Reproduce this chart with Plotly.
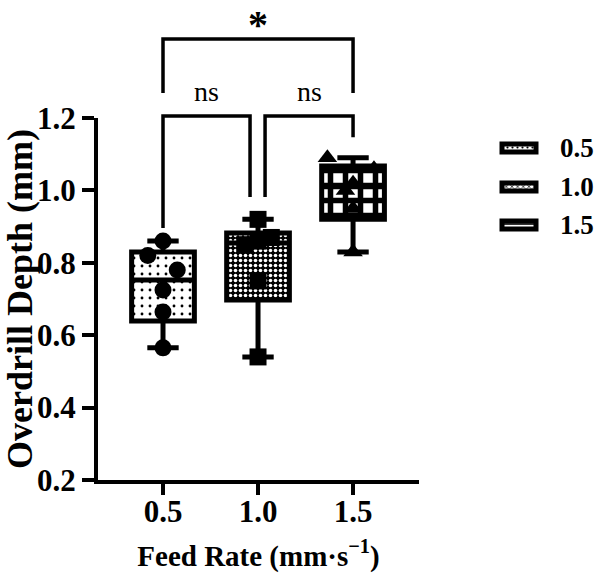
import numpy as np
import plotly.graph_objects as go

# ---------------- data ----------------
groups = ["0.5", "1.0", "1.5"]
group_x = [0.5, 1.0, 1.5]
vals_05 = [0.86, 0.82, 0.78, 0.725, 0.664, 0.565]
vals_10 = [0.92, 0.87, 0.86, 0.85, 0.75, 0.54]
vals_15 = [1.09, 1.06, 1.02, 1.00, 0.95, 0.83]
jit_05 = [0.0, -0.08, 0.075, 0.0, 0.0, 0.0]
jit_10 = [0.0, 0.07, 0.0, -0.07, 0.0, 0.0]
jit_15 = [-0.135, 0.11, 0.0, -0.04, 0.0, 0.0]
x_ticktext = ["0.5", "1.0", "1.5"]
sig_labels = ["*", "ns", "ns"]

all_vals = [vals_05, vals_10, vals_15]
all_jit = [jit_05, jit_10, jit_15]
symbols = ["circle", "square", "triangle-up"]
patterns = [
    dict(shape=".", fgcolor="black", bgcolor="white", size=8, solidity=0.1, fillmode="replace"),
    dict(shape=".", fgcolor="white", bgcolor="black", size=5, solidity=0.4, fillmode="replace"),
    dict(shape="+", fgcolor="black", bgcolor="white", size=15, solidity=0.6, fillmode="replace"),
]

FONT = "Liberation Serif"
BW = 0.33
Y0, Y1 = 0.2, 1.2

fig = go.Figure()

stats = []
for gx, v in zip(group_x, all_vals):
    a = np.array(v)
    q1, med, q3 = np.quantile(a, [0.25, 0.5, 0.75], method="weibull")
    stats.append((gx, q1, med, q3, a.min(), a.max()))

# patterned box bodies
for (gx, q1, med, q3, lo, hi), pat in zip(stats, patterns):
    fig.add_trace(go.Bar(x=[gx], y=[q3 - q1], base=[q1], width=BW,
                         marker=dict(color="white", pattern=pat, line=dict(width=0)),
                         showlegend=False, hoverinfo="skip"))

# box outlines, medians, whiskers
for (gx, q1, med, q3, lo, hi) in stats:
    fig.add_trace(go.Box(x=[gx], q1=[q1], median=[med], q3=[q3],
                         lowerfence=[lo], upperfence=[hi], width=BW,
                         whiskerwidth=0.5, boxpoints=False,
                         fillcolor="rgba(0,0,0,0)",
                         line=dict(color="black", width=5), showlegend=False))

# individual points
for gx, v, j, sym in zip(group_x, all_vals, all_jit, symbols):
    fig.add_trace(go.Scatter(x=[gx + d for d in j], y=v, mode="markers",
                             marker=dict(symbol=sym, size=17, color="black"),
                             showlegend=False, cliponaxis=False))

# ------------- custom legend (patterned swatches) -------------
leg_rows = [148, 187, 225]
leg_pats = [
    dict(shape=".", fgcolor="black", bgcolor="white", size=5, solidity=0.15, fillmode="replace"),
    dict(shape="x", fgcolor="black", bgcolor="white", size=4, solidity=0.3, fillmode="replace"),
    dict(shape="-", fgcolor="black", bgcolor="white", size=4, solidity=0.4, fillmode="replace"),
]
for row, pat, g in zip(leg_rows, leg_pats, groups):
    fig.add_trace(go.Bar(x=[34], base=[502], y=[row], width=8, orientation="h",
                         marker=dict(color="white", pattern=pat,
                                     line=dict(color="black", width=5)),
                         xaxis="x2", yaxis="y2", showlegend=False, hoverinfo="skip"))
    fig.add_annotation(x=558, y=row, xref="x2", yref="y2", text=g, showarrow=False,
                       xanchor="left", yanchor="middle",
                       font=dict(family=FONT, size=27, color="black", weight="bold"))

# ------------- significance brackets (y given in data units, drawn in paper units) -------------
def py(v):
    return (v - Y0) / (Y1 - Y0)

lw = 3.5
def bracket(x0, x1, ytop, yl, yr):
    fig.add_shape(type="path", xref="x", yref="paper",
                  path=f"M{x0},{py(yl)} L{x0},{py(ytop)} L{x1},{py(ytop)} L{x1},{py(yr)}",
                  line=dict(color="black", width=lw))

bracket(group_x[0], group_x[2], 1.418, 1.269, 1.269)
bracket(group_x[0], group_x[1] - 0.042, 1.2055, 0.896, 0.982)
bracket(group_x[1] + 0.037, group_x[2], 1.2055, 0.982, 1.147)

fig.add_annotation(x=group_x[1], y=py(1.526), xref="x", yref="paper", yanchor="top",
                   text=sig_labels[0], showarrow=False,
                   font=dict(family=FONT, size=40, color="black", weight="bold"))
fig.add_annotation(x=(group_x[0] + group_x[1]) / 2 - 0.02, y=py(1.322), xref="x", yref="paper",
                   text=sig_labels[1], showarrow=False,
                   font=dict(family=FONT, size=28, color="black"))
fig.add_annotation(x=(group_x[1] + group_x[2]) / 2 + 0.02, y=py(1.322), xref="x", yref="paper",
                   text=sig_labels[2], showarrow=False,
                   font=dict(family=FONT, size=28, color="black"))

tickfont = dict(family=FONT, size=31, color="black", weight="bold")
fig.update_layout(
    width=600, height=581,
    margin=dict(l=98, r=0, t=118, b=101),
    paper_bgcolor="white", plot_bgcolor="white",
    barmode="overlay",
    showlegend=False,
    xaxis=dict(domain=[0, 321 / 502], range=[0.158, 1.847],
               tickvals=group_x, ticktext=x_ticktext,
               showline=True, linecolor="black", linewidth=4,
               ticks="outside", ticklen=11, tickwidth=4, tickcolor="black",
               ticklabelstandoff=-10,
               tickfont=tickfont, showgrid=False, zeroline=False,
               title=dict(text="Feed Rate (mm·s<sup>−1</sup>)", standoff=18,
                          font=dict(family=FONT, size=29, color="black", weight="bold"))),
    yaxis=dict(range=[Y0, Y1], tickvals=[0.2, 0.4, 0.6, 0.8, 1.0, 1.2], tickformat=".1f",
               showline=True, linecolor="black", linewidth=4,
               ticks="outside", ticklen=12, tickwidth=4, tickcolor="black",
               tickfont=tickfont, showgrid=False, zeroline=False,
               title=dict(text="Overdrill Depth (mm)", standoff=3,
                          font=dict(family=FONT, size=36, color="black", weight="bold"))),
    xaxis2=dict(domain=[(495 - 98) / 502, 1], range=[495, 600], visible=False,
                anchor="y2", fixedrange=True),
    yaxis2=dict(domain=[(480 - 240) / 362, (480 - 130) / 362], range=[240, 130],
                visible=False, anchor="x2", fixedrange=True),
)

fig.write_html("out.html")
